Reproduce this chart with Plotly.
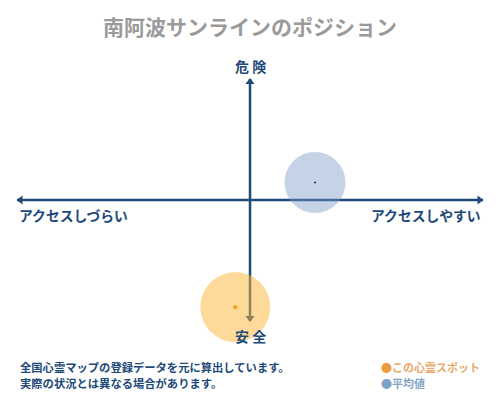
import plotly.graph_objects as go

# position values (x: access, y: danger), range -1..1
spot_x = [-0.063]
spot_y = [-0.885]
avg_x = [0.279]
avg_y = [0.145]
spot_size = [70]
avg_size = [61]

title = "南阿波サンラインのポジション"
top_label = "危 険"
bottom_label = "安 全"
left_label = "アクセスしづらい"
right_label = "アクセスしやすい"
note_lines = ["全国心霊マップの登録データを元に算出しています。",
              "実際の状況とは異なる場合があります。"]
legend_names = ["この心霊スポット", "平均値"]

navy = "#1d4a78"
font = "Noto Sans CJK JP"

fig = go.Figure()

# cross axes
fig.add_trace(go.Scatter(x=[-1, 1, None, 0, 0], y=[0, 0, None, 1, -1], mode="lines",
                         line=dict(color=navy, width=2.5), hoverinfo="skip"))
fig.add_trace(go.Scatter(x=[-0.985, 0.985, 0, 0], y=[0, 0, 0.975, -0.975], mode="markers",
                         marker=dict(color=navy, size=8,
                                     symbol=["triangle-left", "triangle-right", "triangle-up", "triangle-down"]),
                         hoverinfo="skip"))

# circles
fig.add_trace(go.Scatter(x=avg_x, y=avg_y, mode="markers",
                         marker=dict(size=avg_size, color="rgba(120,155,198,0.62)", line=dict(width=0))))
fig.add_trace(go.Scatter(x=avg_x, y=avg_y, mode="markers",
                         marker=dict(size=2, color="#1a2a40")))
fig.add_trace(go.Scatter(x=spot_x, y=spot_y, mode="markers",
                         marker=dict(size=spot_size, color="rgba(251,183,58,0.74)", line=dict(width=0))))
fig.add_trace(go.Scatter(x=spot_x, y=spot_y, mode="markers",
                         marker=dict(size=4, color="#f0a020", symbol="diamond")))

fig.update_traces(cliponaxis=False)

ann = [
    dict(text="<b>" + top_label + "</b>", x=0.5, y=1.054, font=dict(size=14, color=navy)),
    dict(text="<b>" + bottom_label + "</b>", x=0.5, y=-0.062, font=dict(size=14, color=navy)),
    dict(text="<b>" + left_label + "</b>", x=0.0, y=0.44, xanchor="left", font=dict(size=13.8, color=navy)),
    dict(text="<b>" + right_label + "</b>", x=1.0, y=0.44, xanchor="right", font=dict(size=13.8, color=navy)),
    dict(text="<b>" + note_lines[0] + "</b>", x=0.002, y=-0.19, xanchor="left", font=dict(size=11.3, color=navy)),
    dict(text="<b>" + note_lines[1] + "</b>", x=0.002, y=-0.256, xanchor="left", font=dict(size=11.3, color=navy)),
    dict(text="<span style='color:#f09a40'>●</span><b>" + legend_names[0] + "</b>", x=0.777, y=-0.19,
         xanchor="left", font=dict(size=11, color="#e8a868")),
    dict(text="<span style='color:#7aa2c8'>●</span><b>" + legend_names[1] + "</b>", x=0.777, y=-0.256,
         xanchor="left", font=dict(size=11, color="#84a4c4")),
]
for a in ann:
    a.update(xref="paper", yref="paper", showarrow=False, yanchor="middle")
    a.setdefault("xanchor", "center")

# the page body adds an 8px offset, so the plot area is shifted up/left by 8px
fig.update_layout(
    width=500, height=400,
    margin=dict(l=9, r=25, t=71, b=87),
    paper_bgcolor="white", plot_bgcolor="white",
    showlegend=False,
    font=dict(family=font),
    title=dict(text="<b>" + title + "</b>", x=0.484, xanchor="center", y=0.95, yanchor="middle",
               font=dict(size=21, color="#9a9a9a", family=font)),
    xaxis=dict(range=[-1, 1], visible=False, fixedrange=True),
    yaxis=dict(range=[-1, 1], visible=False, fixedrange=True),
    annotations=ann,
)

fig.write_html("out.html")
